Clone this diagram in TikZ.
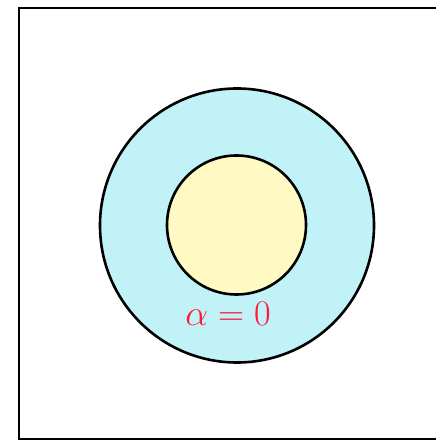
\documentclass[tikz,border=0pt]{standalone}
\usepackage{amsmath,amssymb}
\usepackage{xcolor}
\usetikzlibrary{positioning}

\definecolor{ringcyan}{RGB}{192,242,248}
\definecolor{coreyellow}{RGB}{255,249,196}
\definecolor{labelred}{RGB}{255,24,56}

\begin{document}
\begin{tikzpicture}[
	x=1pt, y=1pt,
	frame/.style={draw=black, line width=2.4pt},
	disk/.style={circle, draw=black, line width=2.6pt, inner sep=0pt},
	lbl/.style={text=labelred, font=\Huge, scale=1.45}
]
\useasboundingbox (0,0) rectangle (436,442);
\draw[frame, fill=white] (19,3) rectangle (440,434);
\node[disk, fill=ringcyan, minimum size=274pt] (outer) at (237,216.5) {};
\node[disk, fill=coreyellow, minimum size=139pt] (inner) at (236.5,217) {};
\node[lbl] (alpha) at (228,128) {$\alpha = 0$};
\end{tikzpicture}
\end{document}
